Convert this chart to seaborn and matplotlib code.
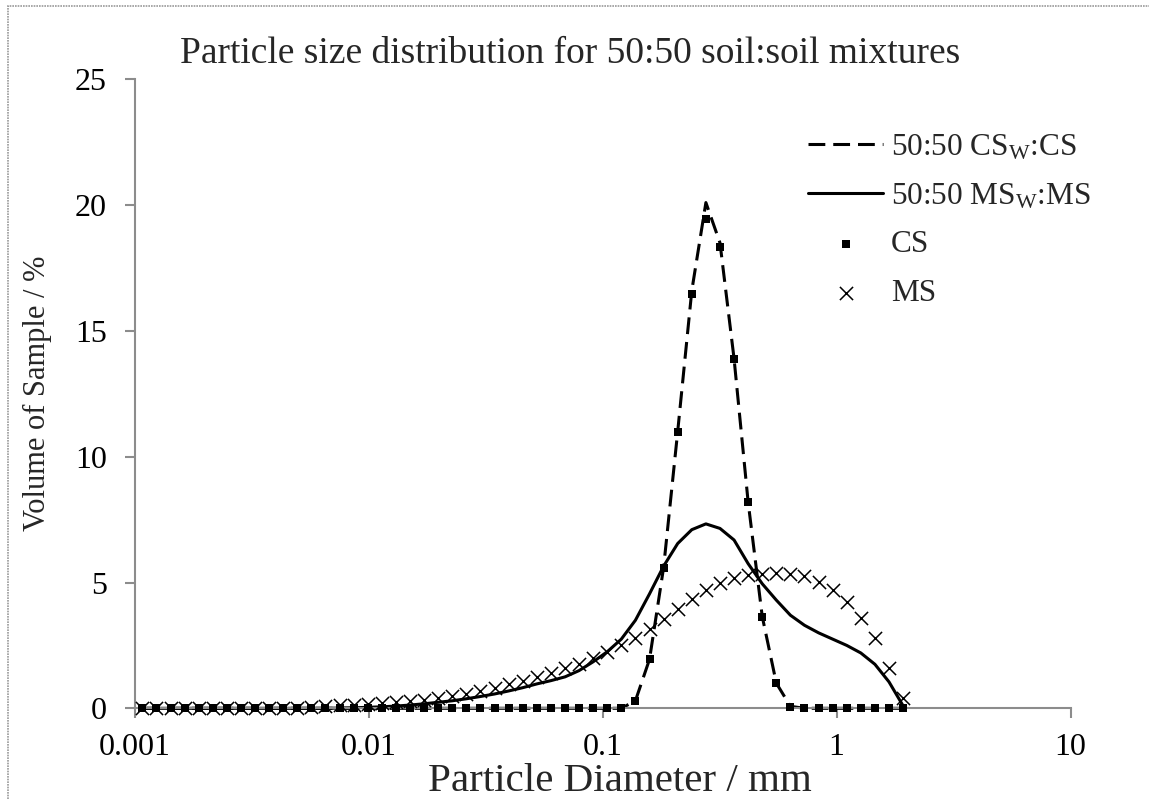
import numpy as np
import pandas as pd
import matplotlib
matplotlib.use("Agg")
import matplotlib.pyplot as plt
from matplotlib.patches import Rectangle
import seaborn as sns

#%% data (diameter in mm, volume in %)
diameter = [0.001080, 0.001241, 0.001425, 0.001637, 0.001880,
            0.002160, 0.002481, 0.002850, 0.003274, 0.003761,
            0.004320, 0.004962, 0.005700, 0.006547, 0.007521,
            0.008640, 0.009925, 0.01140, 0.01309, 0.01504,
            0.01728, 0.01985, 0.02280, 0.02619, 0.03008,
            0.03456, 0.03970, 0.04560, 0.05238, 0.06017,
            0.06912, 0.07940, 0.09120, 0.1048, 0.1203,
            0.1382, 0.1588, 0.1824, 0.2095, 0.2407,
            0.2765, 0.3176, 0.3648, 0.4190, 0.4814,
            0.5530, 0.6352, 0.7296, 0.8381, 0.9627,
            1.106, 1.270, 1.459, 1.676, 1.925]

cs = [0.0, 0.0, 0.0, 0.0, 0.0, 0.0, 0.0, 0.0, 0.0, 0.0,
      0.0, 0.0, 0.0, 0.0, 0.0, 0.0, 0.0, 0.0, 0.0, 0.0,
      0.0, 0.0, 0.0, 0.0, 0.0, 0.0, 0.0, 0.0, 0.0, 0.0,
      0.0, 0.0, 0.0, 0.0, 0.0, 0.30, 1.98, 5.56, 11.0, 16.47,
      19.44, 18.35, 13.89, 8.2, 3.63, 1.0, 0.07, 0.0, 0.0, 0.0,
      0.0, 0.0, 0.0, 0.0, 0.0]

ms = [0.0, 0.0, 0.0, 0.0, 0.0, 0.0, 0.0, 0.0, 0.0, 0.0,
      0.01, 0.03, 0.06, 0.09, 0.12, 0.14, 0.17, 0.20, 0.24, 0.28,
      0.33, 0.40, 0.48, 0.58, 0.70, 0.82, 0.95, 1.10, 1.25, 1.42,
      1.60, 1.78, 2.00, 2.22, 2.50, 2.80, 3.15, 3.55, 3.95, 4.35,
      4.70, 4.98, 5.18, 5.30, 5.35, 5.36, 5.33, 5.25, 5.02, 4.69,
      4.23, 3.57, 2.78, 1.59, 0.40]

mix_cs = [0.0, 0.0, 0.0, 0.0, 0.0, 0.0, 0.0, 0.0, 0.0, 0.0,
          0.0, 0.0, 0.0, 0.0, 0.0, 0.0, 0.0, 0.0, 0.0, 0.0,
          0.0, 0.0, 0.0, 0.0, 0.0, 0.0, 0.0, 0.0, 0.0, 0.0,
          0.0, 0.0, 0.0, 0.0, 0.0, 0.30, 1.95, 5.6, 11.0, 16.6,
          20.1, 18.5, 13.9, 8.2, 3.65, 1.0, 0.08, 0.0, 0.0, 0.0,
          0.0, 0.0, 0.0, 0.0, 0.0]

mix_ms = [0.0, 0.0, 0.0, 0.0, 0.0, 0.0, 0.0, 0.0, 0.0, 0.0,
          0.0, 0.0, 0.0, 0.0, 0.01, 0.02, 0.04, 0.06, 0.09, 0.13,
          0.18, 0.24, 0.30, 0.38, 0.47, 0.57, 0.69, 0.82, 0.97, 1.10,
          1.25, 1.50, 1.85, 2.25, 2.75, 3.50, 4.55, 5.65, 6.55, 7.10,
          7.33, 7.15, 6.69, 5.75, 4.95, 4.30, 3.70, 3.30, 3.00, 2.75,
          2.50, 2.20, 1.75, 1.05, 0.10]

xticks = [0.001, 0.01, 0.1, 1, 10]
xtick_labels = ['0.001', '0.01', '0.1', '1', '10']
yticks = [0, 5, 10, 15, 20, 25]

df = pd.DataFrame({'diameter': diameter, 'cs': cs, 'ms': ms,
                   'mix_cs': mix_cs, 'mix_ms': mix_ms})

#%% style
sns.set_theme(style="white")
plt.rcParams['font.family'] = ['Liberation Serif', 'DejaVu Serif']
plt.rcParams['mathtext.fontset'] = 'custom'
plt.rcParams['mathtext.rm'] = 'Liberation Serif'
plt.rcParams['mathtext.it'] = 'Liberation Serif:italic'
axis_grey = '#8c8c8c'

fig = plt.figure(figsize=(11.49, 8.0), dpi=100)
ax = fig.add_axes([0.1171, 0.1146, 0.8146, 0.7863])

sns.lineplot(data=df, x='diameter', y='mix_cs', ax=ax, color='black',
             linewidth=2.2, linestyle=(0, (5.5, 2.6)),
             label='50:50 CS$_{\\mathrm{W}}$:CS')
sns.lineplot(data=df, x='diameter', y='mix_ms', ax=ax, color='black',
             linewidth=2.2, label='50:50 MS$_{\\mathrm{W}}$:MS')
sns.scatterplot(data=df, x='diameter', y='cs', ax=ax, marker='s', s=26,
                color='black', edgecolor='black', linewidth=0, label='CS', zorder=3)
sns.scatterplot(data=df, x='diameter', y='ms', ax=ax, marker='x', s=90,
                color='black', linewidth=1.1, label='MS', zorder=4)

ax.set_xscale('log')
ax.set_xlim(0.001, 10)
ax.set_ylim(0, 25)
ax.set_xticks(xticks)
ax.set_xticklabels(xtick_labels)
ax.minorticks_off()
ax.set_yticks(yticks)
ax.tick_params(axis='both', labelsize=23, colors=axis_grey, labelcolor='black',
               direction='out', length=7, width=1.5)
ax.tick_params(axis='y', pad=13)
ax.tick_params(axis='x', pad=11)
ax.tick_params(bottom=True, left=True)

for side in ['top', 'right']:
    ax.spines[side].set_visible(False)
for side in ['left', 'bottom']:
    ax.spines[side].set_color(axis_grey)
    ax.spines[side].set_linewidth(1.5)
for coll in ax.collections:
    coll.set_clip_on(False)
for line in ax.lines:
    line.set_clip_on(False)

ax.set_xlabel('Particle Diameter / mm', fontsize=29.5)
ax.set_ylabel('Volume of Sample / %', fontsize=22)
ax.xaxis.set_label_coords(0.5187, -0.117)
ax.xaxis.label.set_verticalalignment('center')
ax.yaxis.set_label_coords(-0.088, 0.5)

fig.suptitle('Particle size distribution for 50:50 soil:soil mixtures',
             x=0.496, y=0.921, va='baseline', fontsize=27)

ax.legend(loc='upper left', bbox_to_anchor=(0.7196, 0.915), frameon=False,
          fontsize=22.5, handlelength=2.4, handletextpad=0.26, labelspacing=0.62,
          borderpad=0, borderaxespad=0)

# thin grey frame round the chart area
fig.patches.append(Rectangle((8 / 1149, -0.05), 1.1, 1.05 - 6 / 800,
                             transform=fig.transFigure, fill=False,
                             edgecolor='#9a9a9a', linewidth=1.2, linestyle=(0, (1, 0.6))))

plt.savefig('out.png', dpi=100)
